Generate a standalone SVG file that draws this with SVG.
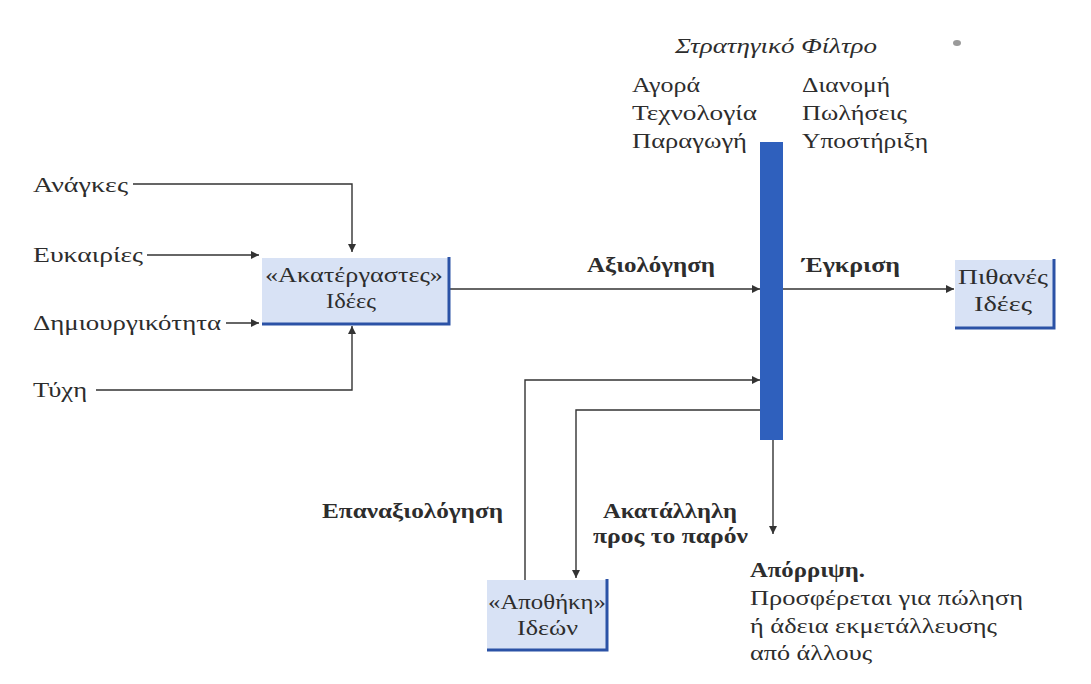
<svg xmlns="http://www.w3.org/2000/svg" width="1091" height="684" viewBox="0 0 1091 684">
<defs>
<style>
.t{font-family:"Liberation Serif","DejaVu Serif",serif;font-size:21px;fill:#2d2d2d}
.b{font-weight:bold;font-size:20px}
.i{font-style:italic}
.box{fill:#d8e2f5}
.edge{stroke:#2b52a6;stroke-width:3;fill:none}
.c{stroke:#333;stroke-width:1.4;fill:none;marker-end:url(#ah)}
</style>
<marker id="ah" viewBox="0 0 10 10" refX="10" refY="5" markerWidth="10" markerHeight="8" markerUnits="userSpaceOnUse" orient="auto">
<path d="M0,0 L10,5 L0,10 z" fill="#333"/>
</marker>
</defs>
<rect width="1091" height="684" fill="#ffffff"/>
<ellipse cx="957" cy="43" rx="4" ry="3" fill="#9a9a9a"/>

<g id="connectors">
<path class="c" d="M133,184 H352 V252"/>
<path class="c" d="M147,255 H259"/>
<path class="c" d="M226,323 H259"/>
<path class="c" d="M96,390 H352 V326"/>
<path class="c" d="M450,289 H760"/>
<path class="c" d="M783,289 H954"/>
<path class="c" d="M525,580 V380 H760"/>
<path class="c" d="M760,410 H576 V578"/>
<path class="c" d="M773,440 V534"/>
</g>

<g id="inputs">
<text class="t" x="33" y="192" textLength="95" lengthAdjust="spacingAndGlyphs">Ανάγκες</text>
<text class="t" x="33" y="262" textLength="110" lengthAdjust="spacingAndGlyphs">Ευκαιρίες</text>
<text class="t" x="33" y="330" textLength="188" lengthAdjust="spacingAndGlyphs">Δημιουργικότητα</text>
<text class="t" x="33" y="397" textLength="54" lengthAdjust="spacingAndGlyphs">Τύχη</text>
</g>

<g id="raw-ideas">
<rect class="box" x="262" y="258" width="187" height="65"/>
<path class="edge" d="M449,257 V324 H262"/>
<text class="t" x="265" y="282" textLength="178" lengthAdjust="spacingAndGlyphs">«Ακατέργαστες»</text>
<text class="t" x="326" y="308" textLength="50" lengthAdjust="spacingAndGlyphs">Ιδέες</text>
</g>

<g id="strategic-filter">
<rect x="760" y="142" width="23" height="298" fill="#2f60bd"/>
<text class="t i" x="675" y="53" textLength="202" lengthAdjust="spacingAndGlyphs">Στρατηγικό Φίλτρο</text>
<text class="t" x="632" y="92" textLength="68" lengthAdjust="spacingAndGlyphs">Αγορά</text>
<text class="t" x="632" y="120" textLength="125" lengthAdjust="spacingAndGlyphs">Τεχνολογία</text>
<text class="t" x="632" y="148" textLength="115" lengthAdjust="spacingAndGlyphs">Παραγωγή</text>
<text class="t" x="802" y="92" textLength="88" lengthAdjust="spacingAndGlyphs">Διανομή</text>
<text class="t" x="802" y="120" textLength="105" lengthAdjust="spacingAndGlyphs">Πωλήσεις</text>
<text class="t" x="802" y="148" textLength="126" lengthAdjust="spacingAndGlyphs">Υποστήριξη</text>
</g>

<g id="labels">
<text class="t b" x="587" y="272" textLength="128" lengthAdjust="spacingAndGlyphs">Αξιολόγηση</text>
<text class="t b" x="802" y="272" textLength="98" lengthAdjust="spacingAndGlyphs">Έγκριση</text>
<text class="t b" x="322" y="518" textLength="181" lengthAdjust="spacingAndGlyphs">Επαναξιολόγηση</text>
<text class="t b" x="603" y="518" textLength="134" lengthAdjust="spacingAndGlyphs">Ακατάλληλη</text>
<text class="t b" x="593" y="543" textLength="155" lengthAdjust="spacingAndGlyphs">προς το παρόν</text>
</g>

<g id="possible-ideas">
<rect class="box" x="955" y="260" width="99" height="68"/>
<path class="edge" d="M1054,259 V328 H955"/>
<text class="t" x="958" y="284" textLength="90" lengthAdjust="spacingAndGlyphs">Πιθανές</text>
<text class="t" x="974" y="311" textLength="58" lengthAdjust="spacingAndGlyphs">Ιδέες</text>
</g>

<g id="idea-store">
<rect class="box" x="487" y="580" width="120" height="70"/>
<path class="edge" d="M607,579 V650 H487"/>
<text class="t" x="488" y="609" textLength="118" lengthAdjust="spacingAndGlyphs">«Αποθήκη»</text>
<text class="t" x="517" y="635" textLength="61" lengthAdjust="spacingAndGlyphs">Ιδεών</text>
</g>

<g id="rejection">
<text class="t b" x="750" y="577" textLength="115" lengthAdjust="spacingAndGlyphs">Απόρριψη.</text>
<text class="t" x="750" y="605" textLength="273" lengthAdjust="spacingAndGlyphs">Προσφέρεται για πώληση</text>
<text class="t" x="750" y="633" textLength="247" lengthAdjust="spacingAndGlyphs">ή άδεια εκμετάλλευσης</text>
<text class="t" x="750" y="660" textLength="122" lengthAdjust="spacingAndGlyphs">από άλλους</text>
</g>
</svg>
